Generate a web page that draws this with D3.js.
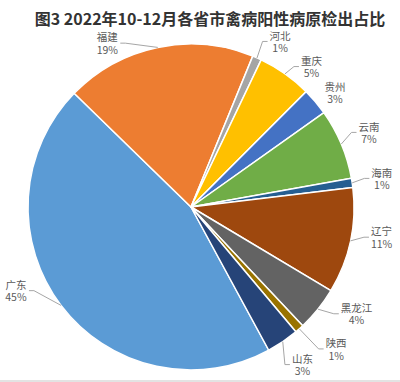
<!DOCTYPE html>
<html><head><meta charset="utf-8">
<script src="https://cdn.jsdelivr.net/npm/d3@7/dist/d3.min.js"></script>
<style>html,body{margin:0;padding:0;background:#fff;}svg{display:block;}</style>
</head><body>
<svg id="c" width="400" height="382"></svg>
<script>
const title = "图3 2022年10-12月各省市禽病阳性病原检出占比";
const provinces = ["广东","福建","河北","重庆","贵州","云南","海南","辽宁","黑龙江","陕西","山东"];
const shares = [45.2,18.9,0.9,5.4,2.7,7.0,0.9,10.5,4.4,0.9,3.2];
const pctLabels = ["45%","19%","1%","5%","3%","7%","1%","11%","4%","1%","3%"];
const colors = ["#5B9BD5","#ED7D31","#A5A5A5","#FFC000","#4472C4","#70AD47","#255E91","#9E480E","#636363","#997300","#264478"];
// label layout: angle shift (deg) from slice mid-angle, distance from centre, leader line shown
const labelShift = [11.6,-15.3,4.4,5.4,1.7,0,0,-3,-6,-4,-1];
const labelDist = [194,184,188,185,184,193,193,193,197,203,193];
const showLeader = [1,1,1,1,0,1,1,1,1,1,1];

const svg = d3.select("#c");
const cx = 191, cy = 207, r = 163;
const font = "'Noto Sans CJK SC','Noto Sans',sans-serif";

svg.append("text").attr("x",210).attr("y",18).attr("text-anchor","middle")
  .attr("dominant-baseline","central").attr("font-family",font).attr("font-weight","bold")
  .attr("font-size","16px").attr("fill","#333").text(title);

const data = provinces.map((p,i)=>({name:p,value:shares[i],pct:pctLabels[i],color:colors[i],shift:labelShift[i],dist:labelDist[i],leader:showLeader[i]}));
const start = 151.5*Math.PI/180;
const pie = d3.pie().value(d=>d.value).sort(null).startAngle(start).endAngle(start+2*Math.PI);
const arc = d3.arc().innerRadius(0).outerRadius(r);
const arcs = pie(data);

const g = svg.append("g").attr("transform",`translate(${cx},${cy})`);
g.selectAll("path.s").data(arcs).join("path").attr("class","s")
  .attr("d",arc).attr("fill",d=>d.data.color).attr("stroke","#fff").attr("stroke-width",1.5).attr("stroke-linejoin","round");

const lg = g.append("g");
arcs.forEach(a=>{
  const mid = (a.startAngle+a.endAngle)/2;
  const la = mid + a.data.shift*Math.PI/180;
  const lx = Math.sin(la)*a.data.dist, ly = -Math.cos(la)*a.data.dist;
  const t = lg.append("text").attr("font-family",font).attr("font-size","10.5px").attr("fill","#595959").attr("text-anchor","middle");
  t.append("tspan").attr("x",lx).attr("y",ly-6.2).attr("dominant-baseline","central").text(a.data.name);
  t.append("tspan").attr("x",lx).attr("y",ly+6.2).attr("dominant-baseline","central").text(a.data.pct);
  if(a.data.leader){
    const bb = t.node().getBBox();
    const px = Math.sin(mid)*r, py = -Math.cos(mid)*r;
    let ax, stub;
    if(px > lx){ ax = bb.x+bb.width+2; stub = ax+5; } else { ax = bb.x-2; stub = ax-5; }
    const ay = ly;
    g.insert("path", "g").attr("d",`M${ax},${ay}L${stub},${ay}L${px},${py}`)
      .attr("fill","none").attr("stroke","#A6A6A6").attr("stroke-width",1);
  }
});
svg.append("rect").attr("x",0).attr("y",380).attr("width",400).attr("height",2).attr("fill","#e3e3e3");
</script>
</body></html>
